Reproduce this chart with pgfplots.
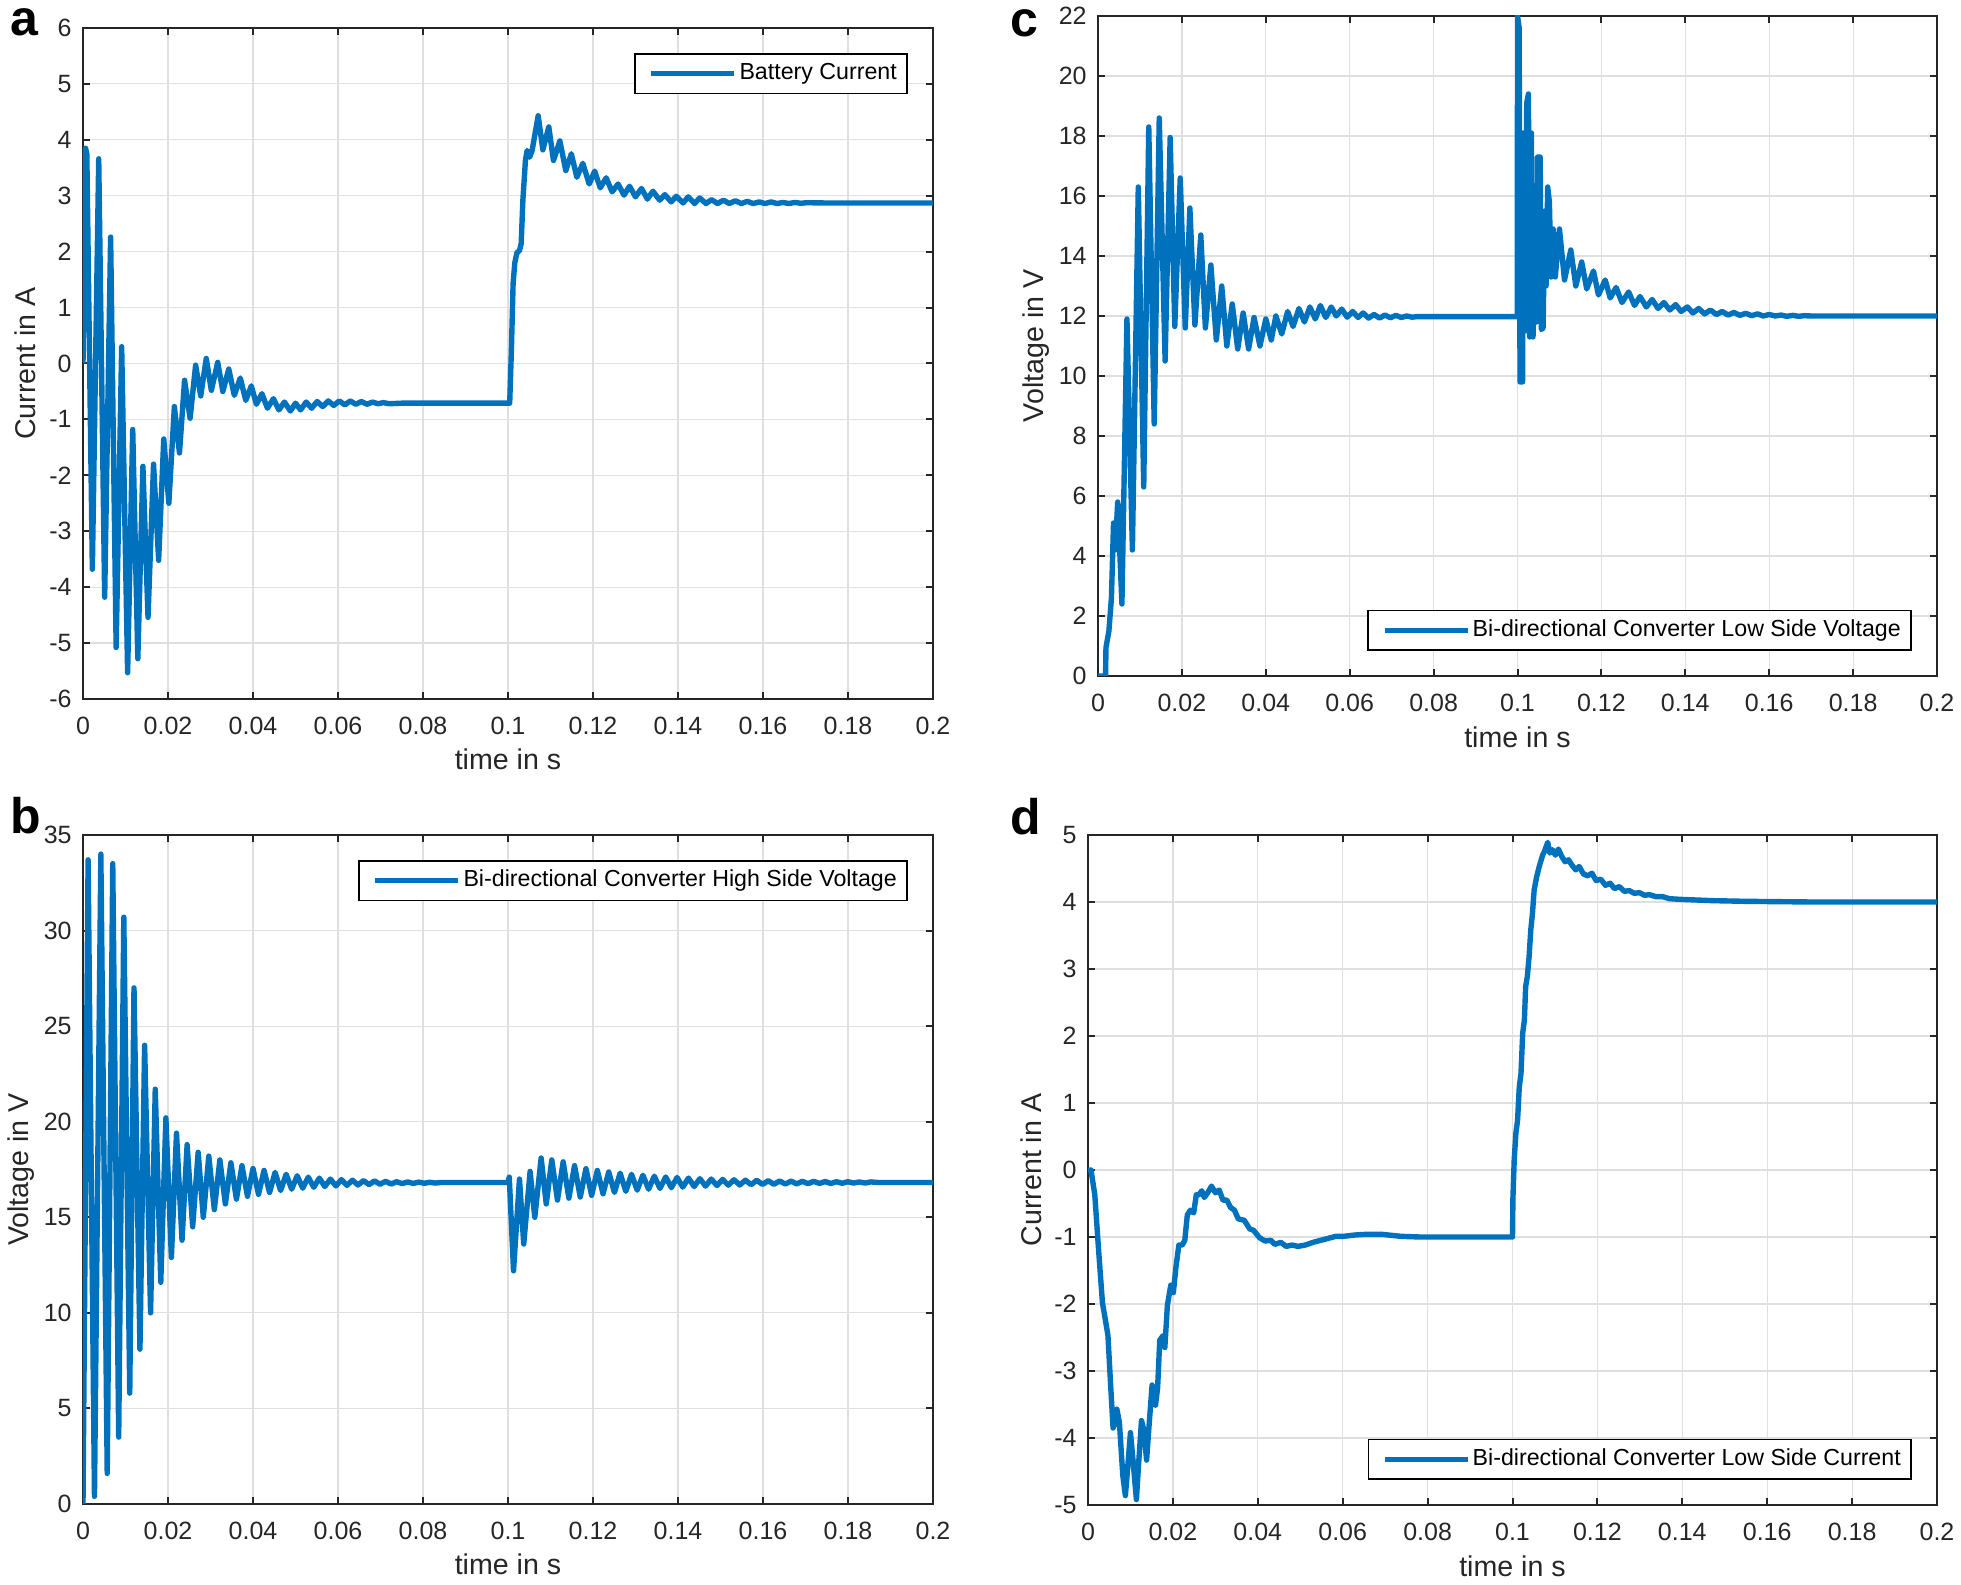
\documentclass[border=0pt]{standalone}
\usepackage{fontspec}
\setmainfont{Liberation Sans}
\usepackage{pgfplots}
\pgfplotsset{compat=1.18}

\definecolor{mblue}{HTML}{0072BD}
\definecolor{axgray}{HTML}{262626}
\definecolor{grgray}{HTML}{DFDFDF}

\pgfplotsset{
  mstyle/.style={
    scale only axis, anchor=south west,
    xmin=0, xmax=0.2,
    xtick={0,0.02,0.04,0.06,0.08,0.1,0.12,0.14,0.16,0.18,0.2},
    xticklabels={0,0.02,0.04,0.06,0.08,0.1,0.12,0.14,0.16,0.18,0.2},
    grid=major, major grid style={draw=grgray, line width=0.6pt},
    tick align=inside, major tick length=3.5pt,
    tick style={draw=axgray, line width=1pt},
    axis line style={draw=axgray, line width=1pt},
    tick label style={font=\fontsize{12.5}{14}\selectfont, text=axgray},
    xticklabel style={anchor=base, yshift=-18pt},
    yticklabel style={anchor=east, inner sep=0pt, xshift=-5.5pt},
    label style={font=\fontsize{14.3}{16}\selectfont, text=axgray},
    xlabel={time in s},
    xlabel style={anchor=base},
    ylabel style={anchor=center},
    legend style={draw=black, line width=0.8pt, fill=white, inner xsep=4pt, inner ysep=3.2pt,
      font=\fontsize{11.6}{13}\selectfont,
      nodes={inner sep=1.2pt, text height=8.6pt, text depth=2.4pt}},
    legend cell align=left,
    legend image code/.code={\path (0pt,0pt); \draw[#1] (2.8pt,0pt) -- (44.3pt,0pt);},
  },
  curve/.style={mblue, line width=2.7pt, line join=round},
  ne legend/.style={legend style={at={(1,1)}, anchor=north east, xshift=-12.5pt, yshift=-12.5pt}},
  se legend/.style={legend style={at={(1,0)}, anchor=south east, xshift=-12.5pt, yshift=12.5pt}},
}

\begin{document}
\begin{tikzpicture}
\useasboundingbox (0,0) rectangle (980.5pt,792.5pt);

% a: battery current
\begin{axis}[mstyle, ne legend, at={(41.5pt,443pt)}, width=425pt, height=335.5pt,
  ymin=-6, ymax=6, ytick={-6,-5,-4,-3,-2,-1,0,1,2,3,4,5,6},
  yticklabels={-6,-5,-4,-3,-2,-1,0,1,2,3,4,5,6},
  ylabel={Current in A},
  ylabel style={at={(axis description cs:-0.0682,0.5)}},
  xlabel style={at={(axis description cs:0.5,-0.1058)}}]
\addplot[curve] coordinates {
(0,0) (0.0006,3.85) (0.0009,3.75) (0.0022,-3.68) (0.0037,3.66) (0.0051,-4.18) (0.0065,2.26)
(0.0078,-5.08) (0.0091,0.3) (0.0105,-5.53) (0.0117,-1.18) (0.0129,-5.28) (0.0141,-1.84)
(0.0153,-4.54) (0.0166,-1.8) (0.0178,-3.52) (0.0190,-1.35) (0.0202,-2.5) (0.0215,-0.77)
(0.0227,-1.6) (0.0239,-0.3) (0.0252,-0.98) (0.0265,-0.03) (0.0277,-0.58) (0.0290,0.09)
(0.0302,-0.48) (0.0317,0.02) (0.0329,-0.5) (0.0343,-0.1) (0.0356,-0.57) (0.0370,-0.26)
(0.0383,-0.66) (0.0396,-0.4) (0.0408,-0.73) (0.0421,-0.54) (0.0434,-0.8) (0.0448,-0.63)
(0.0461,-0.83) (0.0474,-0.69) (0.0488,-0.85) (0.0500,-0.71) (0.0512,-0.83) (0.0525,-0.69)
(0.0538,-0.8) (0.0551,-0.68) (0.0564,-0.77) (0.0577,-0.67) (0.0590,-0.75) (0.0603,-0.67)
(0.0616,-0.74) (0.0629,-0.67) (0.0642,-0.73) (0.0655,-0.68) (0.0668,-0.73) (0.0681,-0.69)
(0.0694,-0.72) (0.0707,-0.7) (0.0720,-0.72) (0.075,-0.71) (0.1004,-0.71)
(0.1008,0.24) (0.1012,1.43) (0.1016,1.8) (0.1021,1.98) (0.1027,2.02) (0.1031,2.14)
(0.1035,2.92) (0.1041,3.63) (0.1045,3.81) (0.1051,3.69) (0.1057,3.82) (0.1071,4.43)
(0.1082,3.82) (0.1096,4.23) (0.1107,3.63) (0.1122,3.98) (0.1136,3.45) (0.1149,3.75)
(0.1162,3.33) (0.1176,3.58) (0.1191,3.21) (0.1204,3.44) (0.1217,3.14) (0.1231,3.32)
(0.1245,3.07) (0.1259,3.21) (0.1273,3.01) (0.1286,3.17) (0.1300,2.98) (0.1314,3.13)
(0.1328,2.94) (0.1341,3.08) (0.1357,2.92) (0.1369,3.02) (0.1384,2.89) (0.1396,2.99)
(0.1412,2.87) (0.1424,2.98) (0.1439,2.86) (0.1451,2.96) (0.1466,2.86) (0.1479,2.93)
(0.1493,2.86) (0.1507,2.92) (0.1521,2.86) (0.1535,2.91) (0.1549,2.86) (0.1563,2.9)
(0.1577,2.86) (0.1591,2.89) (0.1605,2.86) (0.1619,2.89) (0.1633,2.86) (0.1647,2.88)
(0.1661,2.86) (0.1675,2.88) (0.1689,2.865) (0.1703,2.875) (0.175,2.87) (0.2,2.87)
};
\addlegendentry{Battery Current}
\end{axis}

% c: low side voltage
\begin{axis}[mstyle, se legend, at={(549pt,454.5pt)}, width=419.5pt, height=330pt,
  ymin=0, ymax=22, ytick={0,2,4,6,8,10,12,14,16,18,20,22},
  yticklabels={0,2,4,6,8,10,12,14,16,18,20,22},
  ylabel={Voltage in V},
  ylabel style={at={(axis description cs:-0.0739,0.5)}},
  xlabel style={at={(axis description cs:0.5,-0.1076)}}]
\addplot[curve] coordinates {
(0,0) (0.0018,0) (0.0019,0.95) (0.0026,1.5) (0.0032,2.6) (0.0037,5.1) (0.0041,4.2)
(0.0047,5.8) (0.0057,2.4) (0.0069,11.9) (0.0082,4.2) (0.0096,16.3) (0.0109,6.3)
(0.0121,18.3) (0.0134,8.4) (0.0146,18.6) (0.0160,10.5) (0.0172,17.95) (0.0183,11.65)
(0.0196,16.6) (0.0208,11.6) (0.0219,15.6) (0.0231,11.7) (0.0245,14.7) (0.0256,11.6)
(0.0269,13.7) (0.0282,11.2) (0.0295,13.0) (0.0307,11.0) (0.0320,12.4) (0.0333,10.9)
(0.0346,12.1) (0.0359,10.9) (0.0372,11.95) (0.0386,11.0) (0.0400,11.9) (0.0413,11.2)
(0.0424,12.0) (0.0438,11.4) (0.0452,12.15) (0.0465,11.65) (0.0479,12.25) (0.0492,11.8)
(0.0505,12.3) (0.0518,11.9) (0.0530,12.35) (0.0543,11.95) (0.0556,12.3) (0.0568,12.0)
(0.0581,12.23) (0.0594,11.96) (0.0607,12.15) (0.0620,11.95) (0.0632,12.1) (0.0645,11.93)
(0.0658,12.05) (0.0671,11.93) (0.0684,12.03) (0.0697,11.94) (0.0710,12.02) (0.0723,11.95)
(0.0736,12.0) (0.0749,11.96) (0.076,11.98) (0.09995,11.98)
(0.1000,22.0) (0.1004,21.6) (0.1006,9.8) (0.1012,9.8) (0.1014,18.1) (0.1018,11.5)
(0.1022,19.1) (0.1026,19.4) (0.1029,11.3) (0.1033,18.1) (0.1037,11.3) (0.1042,16.2)
(0.1045,11.8) (0.1048,17.3) (0.1054,17.3) (0.1057,11.55) (0.1061,11.6) (0.1065,15.5)
(0.1068,13.0) (0.1072,16.3) (0.1076,15.8) (0.1080,13.3) (0.1085,14.9) (0.1090,13.3)
(0.1100,14.9) (0.1112,13.2) (0.1127,14.2) (0.1139,13.0) (0.1153,13.8) (0.1165,12.9)
(0.1181,13.5) (0.1193,12.7) (0.1209,13.2) (0.1221,12.6) (0.1235,12.95) (0.1249,12.45)
(0.1265,12.8) (0.1279,12.35) (0.1292,12.65) (0.1307,12.3) (0.1321,12.55) (0.1335,12.25)
(0.1349,12.45) (0.1363,12.2) (0.1377,12.38) (0.1390,12.15) (0.1405,12.3) (0.1418,12.1)
(0.1432,12.25) (0.1446,12.07) (0.1460,12.2) (0.1474,12.05) (0.1488,12.15) (0.1502,12.03)
(0.1516,12.12) (0.1530,12.02) (0.1544,12.09) (0.1558,12.01) (0.1572,12.07) (0.1586,12.0)
(0.1600,12.05) (0.1614,12.0) (0.1628,12.03) (0.1642,11.99) (0.1656,12.02) (0.167,11.99)
(0.1684,12.01) (0.170,12.0) (0.2,12.0)
};
\addlegendentry{Bi-directional Converter Low Side Voltage}
\end{axis}

% b: high side voltage
\begin{axis}[mstyle, ne legend, at={(41.5pt,40.5pt)}, width=425pt, height=334.5pt,
  ymin=0, ymax=35, ytick={0,5,10,15,20,25,30,35},
  yticklabels={0,5,10,15,20,25,30,35},
  ylabel={Voltage in V},
  ylabel style={at={(axis description cs:-0.0729,0.5)}},
  xlabel style={at={(axis description cs:0.5,-0.1061)}}]
\addplot[curve] coordinates {
(0,0) (0.0012,33.7) (0.0027,0.4) (0.0042,34.0) (0.0057,1.6) (0.0070,33.5) (0.0084,3.5)
(0.0096,30.7) (0.0110,5.8) (0.0120,27.0) (0.0134,8.1) (0.0145,24.0) (0.0159,10.0)
(0.0170,21.7) (0.0183,11.6) (0.0195,20.2) (0.0208,12.9) (0.0220,19.4) (0.0233,13.8)
(0.0245,18.8) (0.0258,14.5) (0.0271,18.4) (0.0283,15.0) (0.0296,18.2) (0.0309,15.4)
(0.0322,18.0) (0.0335,15.7) (0.0348,17.85) (0.0361,15.95) (0.0374,17.7) (0.0387,16.1)
(0.0400,17.55) (0.0413,16.2) (0.0426,17.45) (0.0439,16.3) (0.0452,17.35) (0.0465,16.4)
(0.0478,17.25) (0.0491,16.47) (0.0504,17.17) (0.0517,16.52) (0.0530,17.1) (0.0543,16.57)
(0.0556,17.05) (0.0569,16.61) (0.0582,17.0) (0.0595,16.64) (0.0608,16.97) (0.0621,16.67)
(0.0634,16.94) (0.0647,16.69) (0.0660,16.92) (0.0673,16.71) (0.0686,16.9) (0.0699,16.73)
(0.0712,16.88) (0.0725,16.74) (0.0738,16.86) (0.0751,16.76) (0.0764,16.85) (0.0777,16.77)
(0.0790,16.84) (0.0803,16.78) (0.0816,16.83) (0.0829,16.79) (0.0842,16.82) (0.086,16.82)
(0.1,16.82) (0.1003,17.1) (0.1013,12.2) (0.1027,17.0) (0.1037,13.6) (0.1052,17.4)
(0.1063,15.0) (0.1078,18.1) (0.1090,15.7) (0.1103,18.0) (0.11164,15.9) (0.11298,17.9)
(0.11432,16.0) (0.11566,17.7) (0.117,16.06) (0.11834,17.54) (0.11968,16.15) (0.12102,17.45)
(0.12236,16.23) (0.1237,17.37) (0.12504,16.3) (0.12638,17.31) (0.12772,16.36) (0.12906,17.25)
(0.1304,16.42) (0.13174,17.2) (0.13308,16.47) (0.13442,17.15) (0.13576,16.51) (0.1371,17.11)
(0.13844,16.55) (0.13978,17.08) (0.14112,16.58) (0.14246,17.05) (0.1438,16.61) (0.14514,17.02)
(0.14648,16.63) (0.14782,17.0) (0.14916,16.66) (0.1505,16.98) (0.15184,16.68) (0.15318,16.96)
(0.15452,16.69) (0.15586,16.94) (0.1572,16.71) (0.15854,16.93) (0.15988,16.72) (0.16122,16.91)
(0.16256,16.73) (0.1639,16.9) (0.16524,16.74) (0.16658,16.89) (0.16792,16.75) (0.16926,16.88)
(0.1706,16.76) (0.17194,16.88) (0.17328,16.77) (0.17462,16.87) (0.17596,16.77) (0.1773,16.86)
(0.17864,16.78) (0.17998,16.86) (0.18132,16.79) (0.18266,16.85) (0.184,16.79) (0.18534,16.85)
(0.187,16.82) (0.2,16.82)
};
\addlegendentry{Bi-directional Converter High Side Voltage}
\end{axis}

% d: low side current
\begin{axis}[mstyle, se legend, at={(544pt,40pt)}, width=424.5pt, height=335pt,
  ymin=-5, ymax=5, ytick={-5,-4,-3,-2,-1,0,1,2,3,4,5},
  yticklabels={-5,-4,-3,-2,-1,0,1,2,3,4,5},
  ylabel={Current in A},
  ylabel style={at={(axis description cs:-0.0671,0.5)}},
  xlabel style={at={(axis description cs:0.5,-0.106)}}]
\addplot[curve] coordinates {
(0,0) (0.0007,0) (0.0016,-0.37) (0.0025,-1.2) (0.0034,-1.98) (0.0041,-2.24) (0.0047,-2.47)
(0.0052,-3.06) (0.0059,-3.85) (0.0064,-3.77) (0.0068,-3.57) (0.0074,-3.77) (0.0082,-4.56)
(0.0088,-4.86) (0.0093,-4.48) (0.0100,-3.92) (0.0106,-4.33) (0.0114,-4.92) (0.0119,-4.41)
(0.0126,-3.74) (0.0132,-3.89) (0.0138,-4.33) (0.0144,-3.8) (0.0151,-3.21) (0.0159,-3.51)
(0.0164,-3.25) (0.0169,-2.54) (0.0177,-2.47) (0.0181,-2.65) (0.0187,-2.02) (0.0195,-1.72)
(0.0201,-1.83) (0.0207,-1.46) (0.0214,-1.12) (0.0222,-1.12) (0.0228,-1.05) (0.0234,-0.67)
(0.0241,-0.6) (0.0249,-0.64) (0.0255,-0.37) (0.0261,-0.37) (0.0268,-0.31) (0.0274,-0.41)
(0.0282,-0.34) (0.0291,-0.24) (0.0300,-0.34) (0.0309,-0.3) (0.0318,-0.45) (0.0327,-0.45)
(0.0336,-0.56) (0.0345,-0.6) (0.0354,-0.73) (0.0368,-0.75) (0.0381,-0.88) (0.0390,-0.9)
(0.0404,-1.01) (0.0417,-1.06) (0.0431,-1.05) (0.0440,-1.11) (0.0454,-1.08) (0.0467,-1.14)
(0.0481,-1.12) (0.0494,-1.14) (0.0512,-1.12) (0.0530,-1.08) (0.0548,-1.05) (0.0566,-1.02)
(0.0584,-0.99) (0.0602,-0.99) (0.0629,-0.97) (0.0656,-0.96) (0.0692,-0.96) (0.0737,-0.99)
(0.0782,-1.0) (0.1,-1.0)
(0.1001,-0.42) (0.1004,0.15) (0.1008,0.55) (0.1012,0.75) (0.1016,1.24) (0.1020,1.44)
(0.1024,2.04) (0.1028,2.24) (0.1031,2.74) (0.1035,2.89) (0.1039,3.18) (0.1043,3.58)
(0.1047,3.83) (0.1051,4.18) (0.1057,4.38) (0.1063,4.53) (0.1071,4.7) (0.1075,4.75)
(0.1083,4.89) (0.1088,4.73) (0.1094,4.78) (0.1101,4.7) (0.1108,4.79) (0.1116,4.68)
(0.1124,4.6) (0.1132,4.63) (0.1140,4.55) (0.1149,4.48) (0.1157,4.53) (0.1167,4.42)
(0.1177,4.39) (0.1187,4.43) (0.1197,4.32) (0.1208,4.34) (0.1219,4.25) (0.1230,4.28)
(0.1240,4.2) (0.1252,4.23) (0.1263,4.16) (0.1275,4.17) (0.1287,4.13) (0.1299,4.14)
(0.1311,4.1) (0.1322,4.11) (0.1338,4.08) (0.1354,4.08) (0.1369,4.05) (0.1393,4.04)
(0.1432,4.03) (0.1472,4.02) (0.1550,4.01) (0.1707,4.0) (0.2,4.0)
};
\addlegendentry{Bi-directional Converter Low Side Current}
\end{axis}

% panel letters
\begin{scope}[every node/.style={anchor=base west, inner sep=0pt, text height=13pt, text depth=0pt,
  font=\fontsize{25}{30}\selectfont\bfseries}]
\node at (5pt,774.5pt) {a};
\node at (5pt,375.5pt) {b};
\node at (505pt,774pt) {c};
\node at (505pt,375pt) {d};
\end{scope}
\end{tikzpicture}
\end{document}
